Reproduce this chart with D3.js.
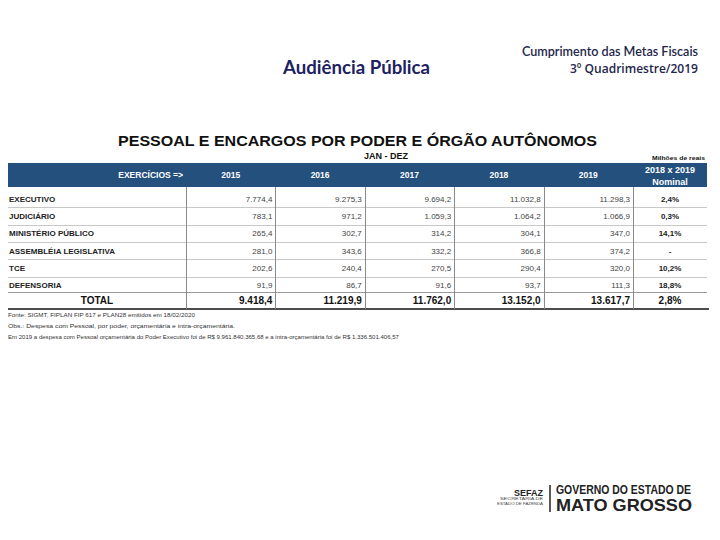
<!DOCTYPE html>
<html>
<head>
<meta charset="utf-8">
<script src="https://cdn.jsdelivr.net/npm/d3@7"></script>
<style>
  body { margin: 0; background: #fff; }
  svg { display: block; }
  text { font-family: "Liberation Sans", Arial, sans-serif; }
</style>
</head>
<body>
<div id="chart"></div>
<script>
// dados (milhões de reais)
var years = ["2015", "2016", "2017", "2018", "2019"];
var rowNames = ["EXECUTIVO", "JUDICIÁRIO", "MINISTÉRIO PÚBLICO", "ASSEMBLÉIA LEGISLATIVA", "TCE", "DEFENSORIA"];
var executivo = [7774.4, 9275.3, 9694.2, 11032.8, 11298.3];
var judiciario = [783.1, 971.2, 1059.3, 1064.2, 1066.9];
var ministerio = [265.4, 302.7, 314.2, 304.1, 347.0];
var assembleia = [281.0, 343.6, 332.2, 366.8, 374.2];
var tce = [202.6, 240.4, 270.5, 290.4, 320.0];
var defensoria = [91.9, 86.7, 91.6, 93.7, 111.3];
var totals = [9418.4, 11219.9, 11762.0, 13152.0, 13617.7];
var variation = ["2,4%", "0,3%", "14,1%", "-", "10,2%", "18,8%"];
var totalVariation = "2,8%";
var notes = [
  "Fonte: SIGMT, FIPLAN FIP 617 e PLAN28 emitidos em 18/02/2020",
  "Obs.: Despesa com Pessoal, por poder, orçamentária e intra-orçamentária.",
  "Em 2019 a despesa com Pessoal orçamentária do Poder Executivo foi de R$ 9.961.840.365,68 e a intra-orçamentária foi de R$ 1.336.501.406,57"
];

var rows = [executivo, judiciario, ministerio, assembleia, tce, defensoria];

var width = 720, height = 540;
var navy = "#24507e";
var fmt = d3.formatLocale({decimal: ",", thousands: ".", grouping: [3], currency: ["R$ ", ""]}).format(",.1f");

var svg = d3.select("#chart").append("svg")
  .attr("width", width)
  .attr("height", height);

// cabeçalho do slide
svg.append("text")
  .attr("x", 283).attr("y", 74)
  .attr("textLength", 147).attr("lengthAdjust", "spacingAndGlyphs")
  .style("font-family", "Lato, 'Open Sans', sans-serif")
  .style("font-weight", "bold").style("font-size", "18px")
  .attr("fill", "#1c2262")
  .text("Audiência Pública");
svg.append("text")
  .attr("x", 698).attr("y", 56).attr("text-anchor", "end")
  .attr("textLength", 176).attr("lengthAdjust", "spacingAndGlyphs")
  .style("font-family", "Lato, 'Open Sans', sans-serif")
  .style("font-size", "13px").style("font-weight", 600)
  .attr("fill", "#24264a")
  .text("Cumprimento das Metas Fiscais");
svg.append("text")
  .attr("x", 698).attr("y", 73).attr("text-anchor", "end")
  .attr("textLength", 128).attr("lengthAdjust", "spacingAndGlyphs")
  .style("font-family", "'Open Sans', Lato, sans-serif")
  .style("font-size", "12.5px").style("font-weight", 600)
  .attr("fill", "#24264a")
  .text("3º Quadrimestre/2019");

// título da tabela
svg.append("text")
  .attr("x", 118).attr("y", 146)
  .attr("textLength", 479).attr("lengthAdjust", "spacingAndGlyphs")
  .style("font-weight", "bold").style("font-size", "15px")
  .attr("fill", "#111")
  .text("PESSOAL E ENCARGOS POR PODER E ÓRGÃO AUTÔNOMOS");
svg.append("text")
  .attr("x", 364).attr("y", 159)
  .style("font-weight", "bold").style("font-size", "9px")
  .attr("fill", "#111")
  .text("JAN - DEZ");
svg.append("text")
  .attr("x", 705).attr("y", 160).attr("text-anchor", "end")
  .attr("textLength", 53).attr("lengthAdjust", "spacingAndGlyphs")
  .style("font-weight", "bold").style("font-size", "6px")
  .attr("fill", "#111")
  .text("Milhões de reais");

// escalas
var x = d3.scaleBand().domain(years).range([186, 633]);
var xVar = [633, 707];
var y = d3.scaleBand().domain(rowNames).range([190, 294]);
var totalTop = 292, totalBottom = 309;

// barra do cabeçalho
svg.append("rect")
  .attr("x", 8).attr("y", 163)
  .attr("width", 699).attr("height", 24)
  .attr("fill", navy);
svg.append("text")
  .attr("x", 183).attr("y", 178).attr("text-anchor", "end")
  .style("font-weight", "bold").style("font-size", "8.5px")
  .attr("fill", "#fff")
  .text("EXERCÍCIOS =>");
svg.append("g").selectAll("text")
  .data(years).join("text")
  .attr("x", d => x(d) + x.bandwidth() / 2)
  .attr("y", 178).attr("text-anchor", "middle")
  .style("font-weight", "bold").style("font-size", "8.5px")
  .attr("fill", "#fff")
  .text(d => d);
svg.append("text")
  .attr("x", (xVar[0] + xVar[1]) / 2).attr("y", 173).attr("text-anchor", "middle")
  .style("font-weight", "bold").style("font-size", "9px")
  .attr("fill", "#fff")
  .text("2018 x 2019");
svg.append("text")
  .attr("x", (xVar[0] + xVar[1]) / 2).attr("y", 185).attr("text-anchor", "middle")
  .style("font-weight", "bold").style("font-size", "9px")
  .attr("fill", "#fff")
  .text("Nominal");

// linhas horizontais
svg.append("g").selectAll("line")
  .data(rowNames.slice(1)).join("line")
  .attr("x1", 8).attr("x2", 707)
  .attr("y1", d => Math.round(y(d)) + 0.5).attr("y2", d => Math.round(y(d)) + 0.5)
  .attr("stroke", "#c8c8c8").attr("stroke-width", 1);
svg.append("line")
  .attr("x1", 8).attr("x2", 707)
  .attr("y1", totalTop + 0.5).attr("y2", totalTop + 0.5)
  .attr("stroke", "#9a9a9a").attr("stroke-width", 1);
svg.append("line")
  .attr("x1", 8).attr("x2", 709)
  .attr("y1", totalBottom).attr("y2", totalBottom)
  .attr("stroke", "#111").attr("stroke-width", 1.6);

// linhas verticais
var seps = years.map(d => x(d)).concat([xVar[0]]);
svg.append("g").selectAll("line")
  .data(seps).join("line")
  .attr("x1", d => Math.round(d) + 0.5).attr("x2", d => Math.round(d) + 0.5)
  .attr("y1", 187).attr("y2", totalBottom)
  .attr("stroke", "#8a8a8a").attr("stroke-width", 1);

// linhas de dados
var rowG = svg.append("g").selectAll("g")
  .data(rows).join("g")
  .attr("transform", (d, i) => translate(0, y(rowNames[i]) + y.bandwidth() / 2 + 3));
rowG.append("text")
  .attr("x", 9)
  .style("font-weight", "bold").style("font-size", "8px")
  .attr("fill", "#222")
  .text((d, i) => rowNames[i]);
rowG.selectAll("text.val")
  .data(d => d).join("text")
  .attr("class", "val")
  .attr("x", (d, i) => x(years[i]) + x.bandwidth() - 3)
  .attr("text-anchor", "end")
  .style("font-size", "8px")
  .attr("fill", "#444")
  .text(d => fmt(d));
rowG.append("text")
  .attr("x", (xVar[0] + xVar[1]) / 2)
  .attr("text-anchor", "middle")
  .style("font-weight", "bold").style("font-size", "8px")
  .attr("fill", "#222")
  .text((d, i) => variation[i]);

// total
var totalY = (totalTop + totalBottom) / 2 + 3.5;
svg.append("text")
  .attr("x", 97).attr("y", totalY).attr("text-anchor", "middle")
  .style("font-weight", "bold").style("font-size", "10px")
  .attr("fill", "#111")
  .text("TOTAL");
svg.append("g").selectAll("text")
  .data(totals).join("text")
  .attr("x", (d, i) => x(years[i]) + x.bandwidth() - 3)
  .attr("y", totalY).attr("text-anchor", "end")
  .style("font-weight", "bold").style("font-size", "10px")
  .attr("fill", "#111")
  .text(d => fmt(d));
svg.append("text")
  .attr("x", (xVar[0] + xVar[1]) / 2).attr("y", totalY).attr("text-anchor", "middle")
  .style("font-weight", "bold").style("font-size", "10px")
  .attr("fill", "#111")
  .text(totalVariation);

// notas
var noteLen = [187, 227, 391];
svg.append("g").selectAll("text")
  .data(notes).join("text")
  .attr("x", 8).attr("y", (d, i) => 317 + i * 11)
  .attr("textLength", (d, i) => noteLen[i]).attr("lengthAdjust", "spacingAndGlyphs")
  .style("font-size", "5.5px")
  .attr("fill", "#333")
  .text(d => d);

// logotipo
var logo = svg.append("g");
logo.append("text")
  .attr("x", 543).attr("y", 496).attr("text-anchor", "end")
  .style("font-weight", "bold").style("font-size", "9px")
  .attr("fill", "#222")
  .text("SEFAZ");
logo.append("text")
  .attr("x", 543).attr("y", 500).attr("text-anchor", "end")
  .attr("textLength", 43).attr("lengthAdjust", "spacingAndGlyphs")
  .style("font-size", "3.5px").attr("fill", "#444")
  .text("SECRETARIA DE");
logo.append("text")
  .attr("x", 543).attr("y", 505).attr("text-anchor", "end")
  .attr("textLength", 46).attr("lengthAdjust", "spacingAndGlyphs")
  .style("font-size", "3.5px").attr("fill", "#444")
  .text("ESTADO DE FAZENDA");
logo.append("line")
  .attr("x1", 550).attr("x2", 550).attr("y1", 485).attr("y2", 512)
  .attr("stroke", "#222").attr("stroke-width", 1.5);
logo.append("text")
  .attr("x", 556).attr("y", 494)
  .attr("textLength", 135).attr("lengthAdjust", "spacingAndGlyphs")
  .style("font-weight", "bold").style("font-size", "12px")
  .attr("fill", "#222")
  .text("GOVERNO DO ESTADO DE");
logo.append("text")
  .attr("x", 556).attr("y", 511)
  .attr("textLength", 136).attr("lengthAdjust", "spacingAndGlyphs")
  .style("font-weight", "bold").style("font-size", "17px")
  .attr("fill", "#222")
  .text("MATO GROSSO");

function translate(x, y) {
  return `translate(${x}, ${y})`;
}
</script>
</body>
</html>
